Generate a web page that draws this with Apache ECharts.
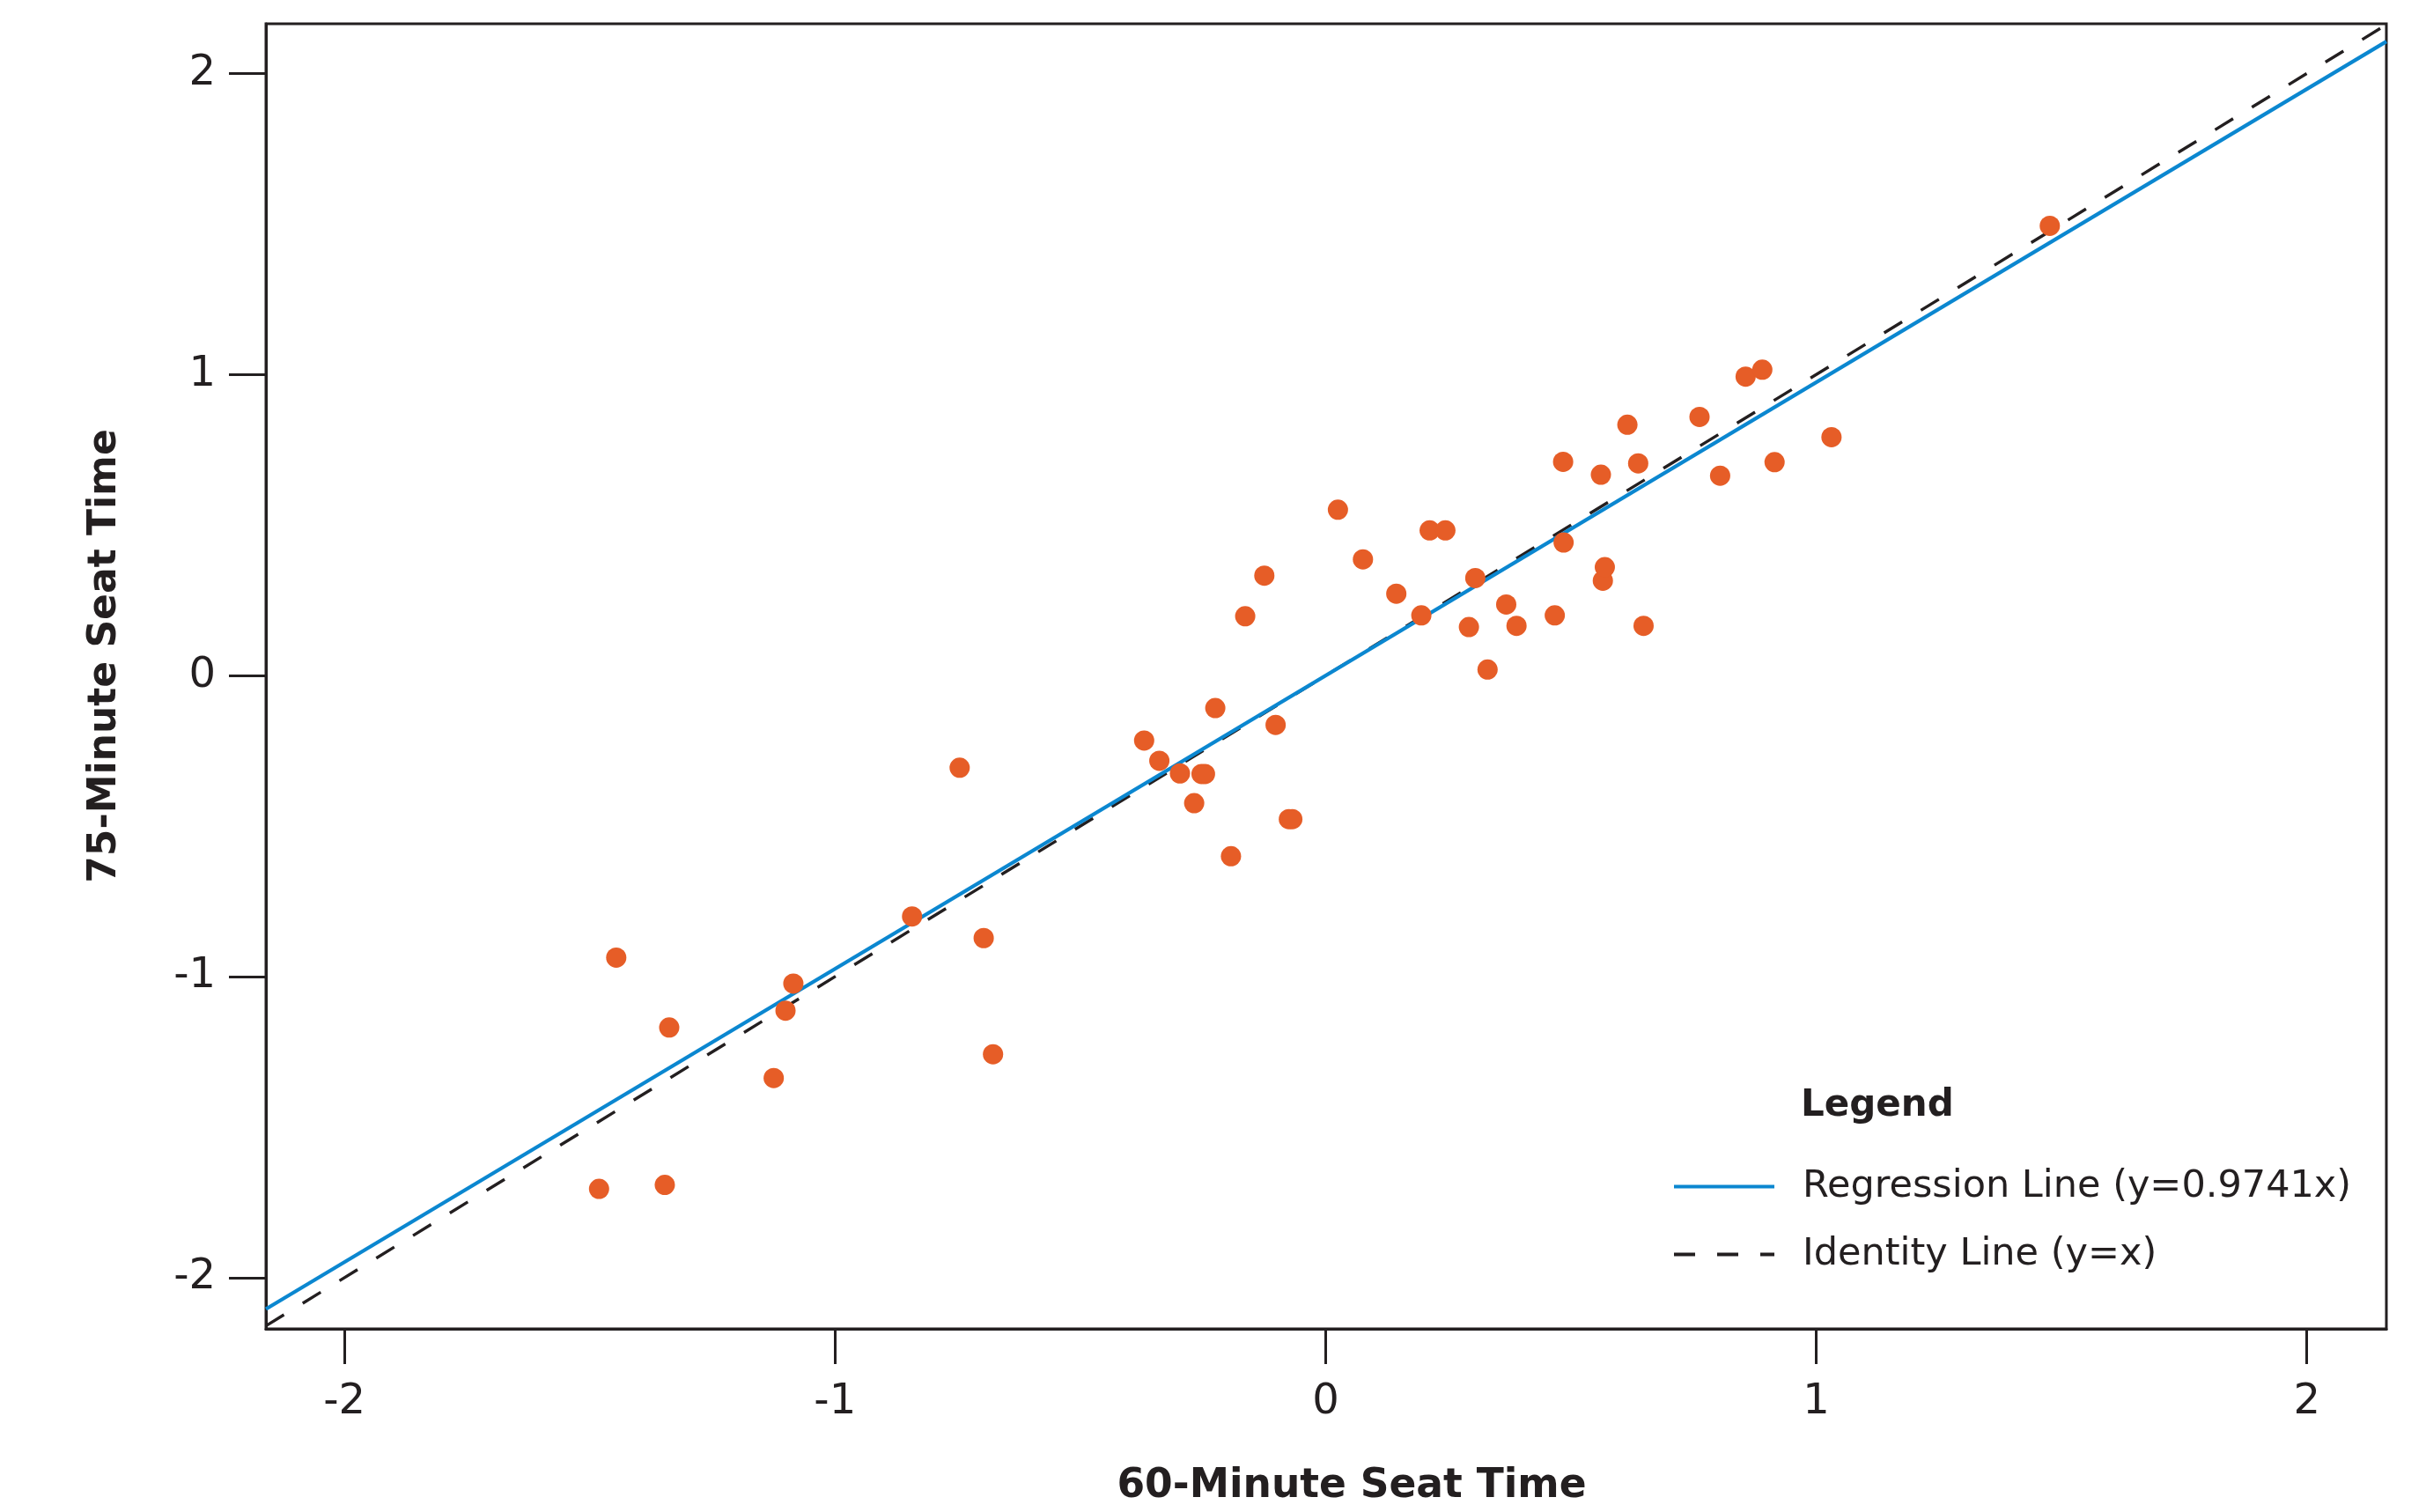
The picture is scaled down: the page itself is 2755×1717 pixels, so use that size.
<!DOCTYPE html>
<html>
<head>
<meta charset="utf-8">
<script src="https://cdn.jsdelivr.net/npm/echarts@6/dist/echarts.min.js"></script>
<style>
html,body{margin:0;padding:0;background:#fff;}
#chart{width:2755px;height:1717px;}
</style>
</head>
<body>
<div id="chart"></div>
<script>
// ---- data ----
const xValues = [-1.481,-1.446,-1.347,-1.338,-1.125,-1.101,-1.085,-0.843,-0.746,-0.697,-0.678,
  -0.370,-0.339,-0.297,-0.268,-0.253,-0.246,-0.225,-0.193,-0.164,-0.125,-0.102,-0.075,-0.068,
  0.025,0.076,0.144,0.195,0.212,0.244,0.292,0.305,0.330,0.368,0.389,0.467,0.484,0.485,
  0.561,0.565,0.569,0.615,0.637,0.648,0.762,0.804,0.856,0.890,0.915,1.031,1.476];
const yValues = [-1.705,-0.937,-1.692,-1.169,-1.337,-1.113,-1.023,-0.800,-0.306,-0.872,-1.258,
  -0.216,-0.283,-0.325,-0.424,-0.327,-0.327,-0.108,-0.600,0.197,0.332,-0.164,-0.477,-0.477,
  0.551,0.386,0.272,0.200,0.482,0.482,0.161,0.324,0.020,0.236,0.165,0.200,0.710,0.442,
  0.667,0.315,0.360,0.833,0.705,0.165,0.859,0.664,0.993,1.016,0.709,0.792,1.494];
const xTicks = [-2, -1, 0, 1, 2];
const yTicks = [-2, -1, 0, 1, 2];
const xRange = [-2.16, 2.162];
const yRange = [-2.17, 2.165];
const regressionSlope = 0.9741;
const regressionName = 'Regression Line (y=0.9741x)';
const identityName = 'Identity Line (y=x)';
const xTitle = '60-Minute Seat Time';
const yTitle = '75-Minute Seat Time';
const legendTitle = 'Legend';

// ---- build ----
const points = xValues.map((x, i) => [x, yValues[i]]);
const regLine = xRange.map(x => [x, regressionSlope * x]);
const idLine = xRange.map(x => [x, x]);

const INK = '#231f20';
const BLUE = '#0b87d0';
const FONT = 'DejaVu Sans';

const chart = echarts.init(document.getElementById('chart'), null, {renderer: 'canvas'});
chart.setOption({
  animation: false,
  backgroundColor: '#ffffff',
  title: {
    text: legendTitle,
    left: 2045, top: 1236, padding: 0,
    textStyle: {fontFamily: FONT, fontWeight: 'bold', fontSize: 42, color: INK, lineHeight: 40}
  },
  legend: {
    orient: 'vertical',
    left: 1899, top: 1326,
    itemWidth: 114, itemHeight: 40, itemGap: 34,
    selectedMode: false,
    padding: 0,
    data: [regressionName, identityName],
    itemStyle: {opacity: 0},
    lineStyle: {width: 4},
    textStyle: {fontFamily: FONT, fontSize: 43, color: INK, lineHeight: 40, padding: [0, 0, 0, 27]}
  },
  grid: {
    left: 302, right: 45, top: 27, bottom: 208,
    show: true, borderColor: INK, borderWidth: 3, backgroundColor: 'transparent'
  },
  xAxis: {
    type: 'value', min: xRange[0], max: xRange[1],
    name: xTitle, nameLocation: 'middle', nameGap: 156,
    nameTextStyle: {fontFamily: FONT, fontWeight: 'bold', fontSize: 45.5, color: INK, padding: [0, 0, 0, 58]},
    axisLine: {show: true, onZero: false, lineStyle: {color: INK, width: 3}},
    axisTick: {show: true, length: 40, customValues: xTicks, lineStyle: {color: INK, width: 3}},
    axisLabel: {customValues: xTicks, margin: 60, fontFamily: FONT, fontSize: 48, color: INK},
    splitLine: {show: false}
  },
  yAxis: {
    type: 'value', min: yRange[0], max: yRange[1],
    name: yTitle, nameLocation: 'middle', nameGap: 160,
    nameTextStyle: {fontFamily: FONT, fontWeight: 'bold', fontSize: 44, color: INK, padding: [0, 0, 0, 46]},
    axisLine: {show: true, onZero: false, lineStyle: {color: INK, width: 3}},
    axisTick: {show: true, length: 42, customValues: yTicks, lineStyle: {color: INK, width: 3}},
    axisLabel: {customValues: yTicks, margin: 57, fontFamily: FONT, fontSize: 48, color: INK},
    splitLine: {show: false}
  },
  series: [
    {
      name: identityName, type: 'line', data: idLine, symbol: 'none', z: 2,
      itemStyle: {color: INK},
      lineStyle: {color: INK, width: 3.4, type: [24, 25]}
    },
    {
      name: regressionName, type: 'line', data: regLine, symbol: 'none', z: 3,
      itemStyle: {color: BLUE},
      lineStyle: {color: BLUE, width: 4.2}
    },
    {
      name: 'Observations', type: 'scatter', data: points, symbol: 'circle', symbolSize: 23, z: 4,
      itemStyle: {color: '#e65d27', opacity: 1}
    }
  ]
});
</script>
</body>
</html>
